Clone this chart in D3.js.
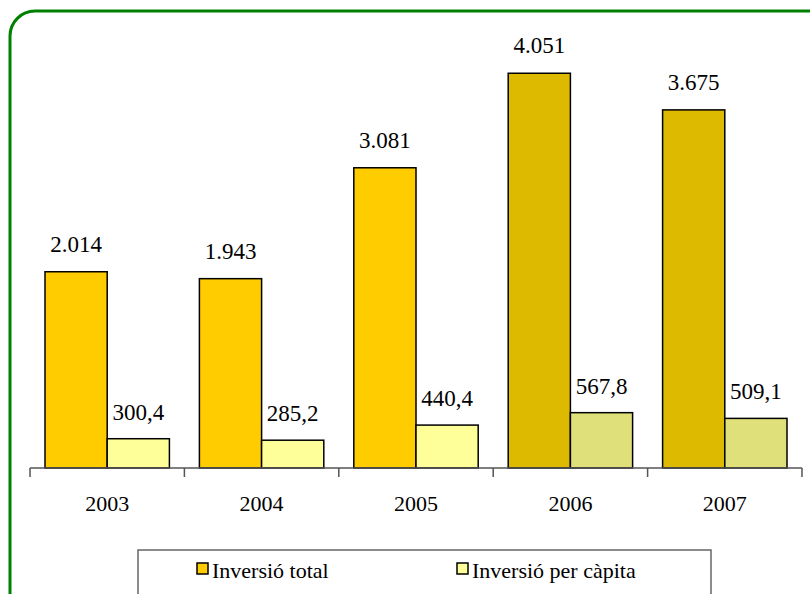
<!DOCTYPE html>
<html>
<head>
<meta charset="utf-8">
<script src="https://cdn.jsdelivr.net/npm/d3@7"></script>
<style>
  html, body { margin: 0; padding: 0; background: #fff; overflow: hidden; }
  #chart text { font-family: "Liberation Serif" !important; }
</style>
</head>
<body>
<svg id="chart" width="810" height="594" font-family="Liberation Serif"></svg>
<script>
// Data
const years = ['2003', '2004', '2005', '2006', '2007'];
const totalValues = [2014, 1943, 3081, 4051, 3675];
const totalLabels = ['2.014', '1.943', '3.081', '4.051', '3.675'];
const capitaValues = [300.4, 285.2, 440.4, 567.8, 509.1];
const capitaLabels = ['300,4', '285,2', '440,4', '567,8', '509,1'];
const seriesNames = ['Inversió total', 'Inversió per càpita'];

// last two years are drawn in darker shades
const totalColors = ['#FFCC00', '#FFCC00', '#FFCC00', '#DDB900', '#DDB900'];
const capitaColors = ['#FFFF99', '#FFFF99', '#FFFF99', '#E0E07A', '#E0E07A'];

const FONT = 'Liberation Serif';

const svg = d3.select('#chart');

// Green rounded frame (runs off the right/bottom edge)
svg.append('rect')
    .attr('x', 10).attr('y', 11)
    .attr('width', 830).attr('height', 640)
    .attr('rx', 25).attr('ry', 25)
    .attr('fill', 'none')
    .attr('stroke', '#008000')
    .attr('stroke-width', 3);

const x0 = 30, x1 = 802, baseY = 468;

const x = d3.scaleBand()
    .domain(years)
    .range([x0, x1]);

const y = d3.scaleLinear()
    .domain([0, 4500])
    .range([baseY, baseY - 438.5]);

const inset = 15;
const barW = (x.bandwidth() - 2 * inset) / 2;

function label(sel) {
    return sel.attr('font-family', FONT)
        .style('font-family', FONT, 'important');
}

const g = svg.append('g');

// Total bars
g.selectAll('rect.total')
    .data(years)
    .join('rect')
    .attr('class', 'total')
    .attr('x', d => x(d) + inset)
    .attr('y', (d, i) => y(totalValues[i]))
    .attr('width', barW)
    .attr('height', (d, i) => baseY - y(totalValues[i]))
    .attr('fill', (d, i) => totalColors[i])
    .attr('stroke', '#000')
    .attr('stroke-width', 1.5);

// Per capita bars
g.selectAll('rect.capita')
    .data(years)
    .join('rect')
    .attr('class', 'capita')
    .attr('x', d => x(d) + inset + barW)
    .attr('y', (d, i) => y(capitaValues[i]))
    .attr('width', barW)
    .attr('height', (d, i) => baseY - y(capitaValues[i]))
    .attr('fill', (d, i) => capitaColors[i])
    .attr('stroke', '#000')
    .attr('stroke-width', 1.5);

// Value labels
g.selectAll('text.tlabel')
    .data(years)
    .join('text')
    .attr('class', 'tlabel')
    .attr('x', d => x(d) + inset + barW / 2)
    .attr('y', (d, i) => y(totalValues[i]) - 20)
    .attr('text-anchor', 'middle')
    .attr('font-size', 23)
    .call(label)
    .text((d, i) => totalLabels[i]);

g.selectAll('text.clabel')
    .data(years)
    .join('text')
    .attr('class', 'clabel')
    .attr('x', d => x(d) + inset + barW * 1.5)
    .attr('y', (d, i) => y(capitaValues[i]) - 19)
    .attr('text-anchor', 'middle')
    .attr('font-size', 23)
    .call(label)
    .text((d, i) => capitaLabels[i]);

// Category axis with ticks between categories
const axis = svg.append('g');
axis.append('line')
    .attr('x1', x0).attr('x2', x1)
    .attr('y1', baseY).attr('y2', baseY)
    .attr('stroke', '#555').attr('stroke-width', 1.5);

const bounds = years.map(d => x(d)).concat([x1]);
axis.selectAll('line.tick')
    .data(bounds)
    .join('line')
    .attr('class', 'tick')
    .attr('x1', d => d).attr('x2', d => d)
    .attr('y1', baseY).attr('y2', baseY + 9)
    .attr('stroke', '#555').attr('stroke-width', 1.5);

axis.selectAll('text')
    .data(years)
    .join('text')
    .attr('x', d => x(d) + x.bandwidth() / 2)
    .attr('y', 511)
    .attr('text-anchor', 'middle')
    .attr('font-size', 22)
    .call(label)
    .text(d => d);

// Legend
const legend = svg.append('g');
legend.append('rect')
    .attr('x', 138).attr('y', 550)
    .attr('width', 573).attr('height', 60)
    .attr('fill', '#fff')
    .attr('stroke', '#666')
    .attr('stroke-width', 1.5);

const legendX = [197, 457];
const legendFill = ['#FFCC00', '#FFFF99'];
seriesNames.forEach((name, i) => {
    legend.append('rect')
        .attr('x', legendX[i]).attr('y', 563)
        .attr('width', 11).attr('height', 11)
        .attr('fill', legendFill[i])
        .attr('stroke', '#000')
        .attr('stroke-width', 1.5);
    legend.append('text')
        .attr('x', legendX[i] + 15)
        .attr('y', 578)
        .attr('font-size', 22)
        .call(label)
        .text(name);
});
</script>
</body>
</html>
